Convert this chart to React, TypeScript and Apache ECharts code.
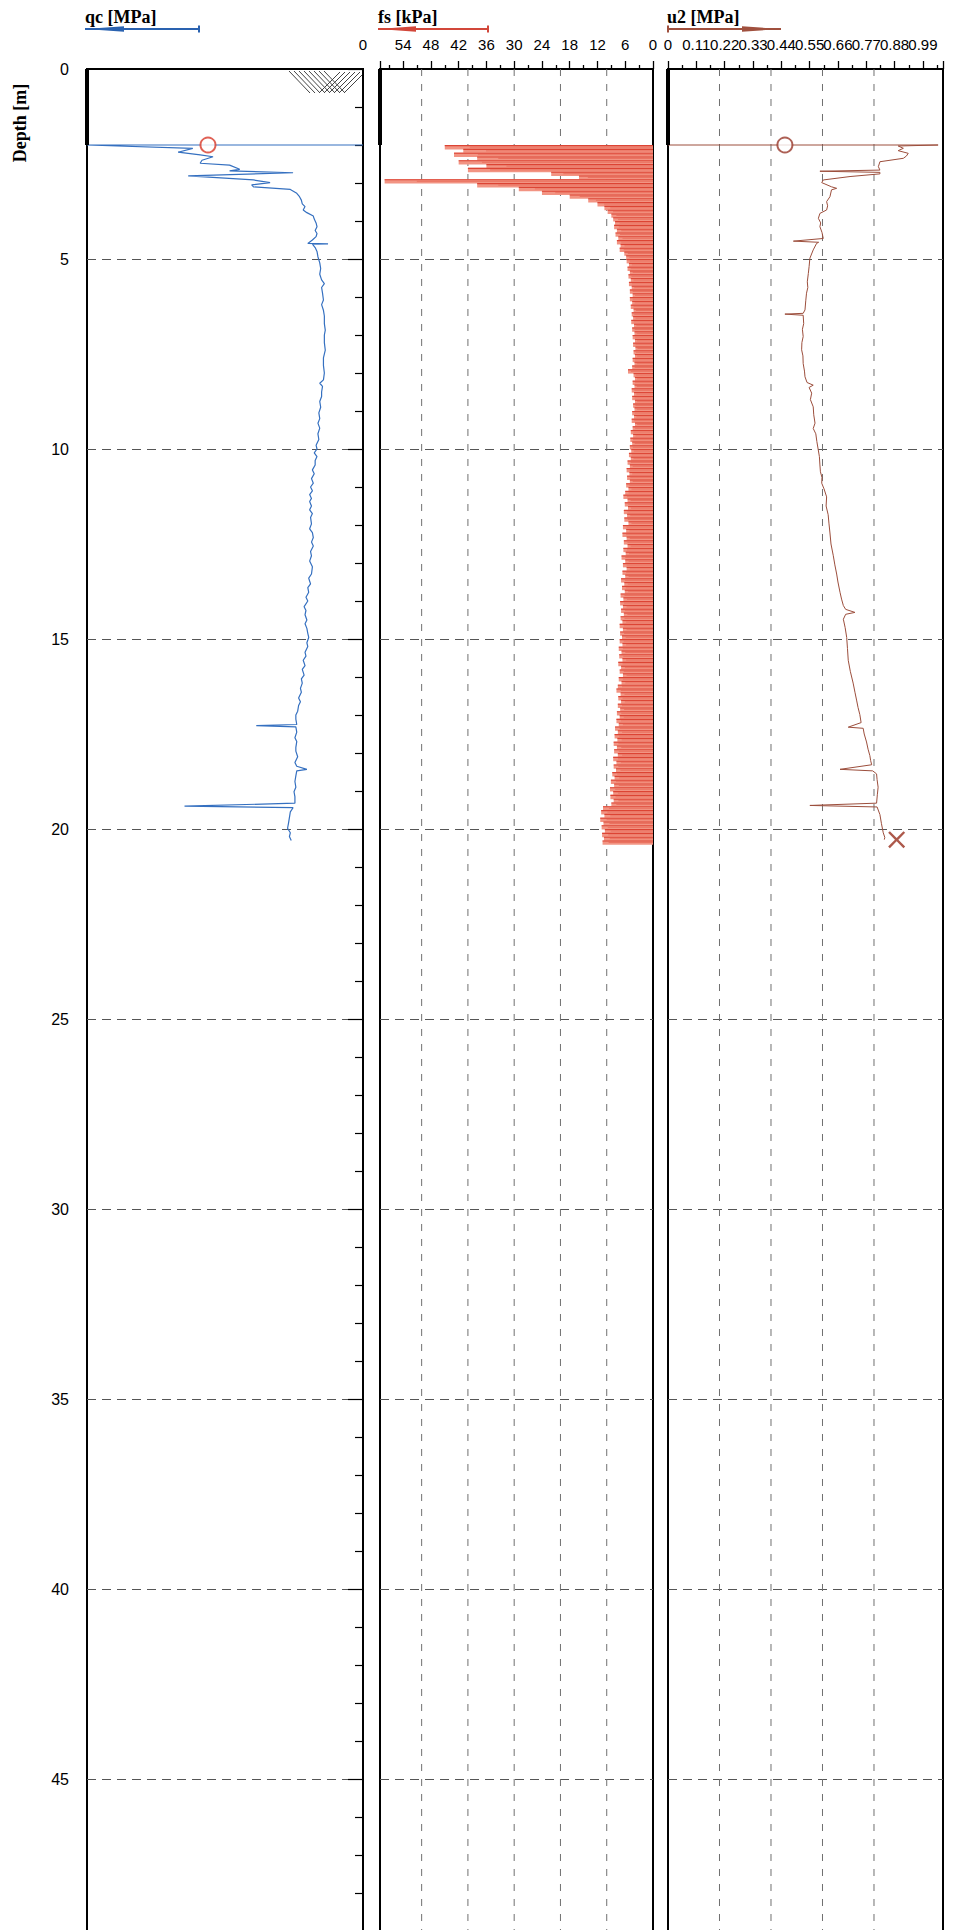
import React, { useEffect, useRef } from 'react';
import * as echarts from 'echarts';

// ---------- axes ----------
const DEPTH_MAX = 50;
const DEPTH_INTERVAL = 5;
const PREDRILL_DEPTH = 2.0;
const QC_MAX = 3;
const FS_MAX = 59;
const FS_INTERVAL = 6;
const U2_MAX = 1.068;
const U2_INTERVAL = 0.11;
const FS_GRIDLINES = [10, 20, 30, 40, 50];
const U2_GRIDLINES = [0.2, 0.4, 0.6, 0.8];

// ---------- qc [MPa] ----------
const QC_DEPTH = [
  2.0, 2.0, 2.09, 2.19, 2.26, 2.31, 2.4, 2.48, 2.53, 2.64, 2.68, 2.73, 2.81, 2.92, 2.99, 3.05, 3.1, 3.17, 3.27, 3.36,
  3.45, 3.55, 3.62, 3.71, 3.78, 3.87, 3.95, 4.05, 4.15, 4.25, 4.33, 4.41, 4.5, 4.59, 4.6, 4.61, 4.7, 4.8, 4.94, 5.1,
  5.25, 5.4, 5.55, 5.65, 5.75, 5.9, 6.08, 6.2, 6.35, 6.5, 6.7, 6.87, 7.0, 7.2, 7.4, 7.6, 7.8, 8.0, 8.18, 8.27,
  8.35, 8.5, 8.62, 8.75, 8.9, 9.05, 9.2, 9.32, 9.45, 9.6, 9.75, 9.9, 10.0, 10.1, 10.2, 10.3, 10.42, 10.55, 10.65, 10.78,
  10.9, 11.0, 11.1, 11.2, 11.3, 11.38, 11.5, 11.6, 11.7, 11.8, 11.97, 12.1, 12.2, 12.33, 12.45, 12.55, 12.7, 12.81, 12.95, 13.1,
  13.29, 13.4, 13.55, 13.65, 13.77, 13.9, 14.0, 14.15, 14.25, 14.36, 14.5, 14.6, 14.72, 14.85, 14.96, 15.1, 15.2, 15.35, 15.45, 15.56,
  15.7, 15.8, 15.95, 16.05, 16.16, 16.3, 16.4, 16.55, 16.65, 16.75, 16.9, 17.0, 17.11, 17.25, 17.28, 17.31, 17.45, 17.6, 17.7, 17.85,
  17.95, 18.1, 18.25, 18.35, 18.43, 18.47, 18.6, 18.75, 18.9, 19.02, 19.15, 19.32, 19.4, 19.44, 19.55, 19.7, 19.85, 19.98, 20.1, 20.2,
  20.3,
];
const QC_VALUE = [
  0, 3.0, 1.85, 2.01, 1.77, 1.63, 1.75, 1.77, 1.45, 1.34, 1.45, 0.76, 1.9, 1.19, 1.01, 1.21, 1.19, 0.79, 0.72, 0.69,
  0.67, 0.66, 0.63, 0.65, 0.61, 0.54, 0.53, 0.51, 0.5, 0.52, 0.5, 0.51, 0.55, 0.6, 0.38, 0.55, 0.52, 0.5, 0.49, 0.47,
  0.46, 0.47, 0.45, 0.42, 0.45, 0.44, 0.43, 0.45, 0.43, 0.42, 0.42, 0.41, 0.42, 0.42, 0.41, 0.43, 0.43, 0.42, 0.43, 0.47,
  0.44, 0.45, 0.45, 0.47, 0.46, 0.48, 0.47, 0.49, 0.47, 0.49, 0.48, 0.51, 0.5, 0.53, 0.5, 0.52, 0.52, 0.55, 0.53, 0.56,
  0.54, 0.57, 0.55, 0.58, 0.56, 0.58, 0.56, 0.58, 0.55, 0.57, 0.56, 0.58, 0.55, 0.54, 0.56, 0.54, 0.57, 0.56, 0.58, 0.55,
  0.56, 0.59, 0.57, 0.6, 0.59, 0.62, 0.6, 0.64, 0.62, 0.63, 0.61, 0.63, 0.61, 0.6, 0.59, 0.61, 0.6, 0.63, 0.62, 0.65,
  0.63, 0.66, 0.64, 0.67, 0.66, 0.68, 0.67, 0.7, 0.68, 0.7, 0.71, 0.73, 0.73, 0.72, 1.16, 0.73, 0.72, 0.74, 0.72, 0.73,
  0.73, 0.71, 0.74, 0.72, 0.61, 0.72, 0.73, 0.74, 0.73, 0.75, 0.74, 0.74, 1.94, 0.76, 0.79, 0.8, 0.81, 0.82, 0.79, 0.8,
  0.78,
];

// ---------- fs [kPa], one sample every FS_STEP m from FS_START ----------
const FS_START = 2.0;
const FS_STEP = 0.1;
const FS_VALUE = [
  45, 41, 43, 38, 42, 36, 40, 22, 16, 58, 38, 29, 24, 18, 14, 12, 10.5, 9.8, 9, 8.6,
  8.2, 8.4, 7.8, 8.1, 7.5, 7.8, 7.0, 7.2, 6.2, 5.8, 5.7, 5.2, 5.5, 5.0, 5.3, 4.8, 5.2, 4.6, 5.0, 4.4,
  5.0, 4.5, 4.8, 4.2, 4.6, 4.3, 4.7, 4.1, 4.5, 4.0, 4.4, 3.9, 4.3, 3.8, 4.2, 3.9, 4.4, 4.0, 4.5, 5.4,
  4.2, 3.9, 4.4, 4.0, 4.6, 4.1, 4.5, 3.9, 4.3, 4.0, 4.5, 4.1, 4.6, 3.9, 4.4, 4.8, 4.3, 4.9, 4.5, 5.0,
  4.7, 5.2, 4.8, 5.5, 5.0, 5.7, 5.1, 5.6, 5.0, 5.8, 5.3, 6.0, 6.4, 5.5, 6.1, 5.4, 6.3, 5.6, 6.2, 5.3,
  6.5, 5.8, 6.6, 5.7, 6.3, 5.5, 6.4, 5.9, 6.8, 6.0, 6.5, 5.7, 6.6, 6.0, 6.9, 6.2, 6.7, 6.1, 7.0, 6.4,
  7.1, 6.5, 6.9, 6.3, 7.0, 6.6, 7.2, 6.5, 7.1, 6.7, 7.2, 6.6, 7.4, 6.8, 7.3, 6.6, 7.5, 6.9, 7.2, 6.5,
  7.4, 6.8, 7.6, 7.9, 7.0, 7.5, 6.9, 7.6, 7.1, 7.8, 7.2, 7.9, 7.4, 8.2, 7.6, 8.3, 7.7, 8.5, 7.8, 8.4,
  7.6, 8.6, 7.9, 8.5, 8.0, 8.8, 8.3, 9.1, 8.4, 9.3, 8.6, 9.2, 8.5, 9.0, 10.8, 11.2, 10.5, 11.4, 10.7, 11.1,
  10.4, 11.0, 10.6, 10.9,
];

// ---------- u2 [MPa] ----------
const U2_DEPTH = [
  2.0, 2.0, 2.026, 2.087, 2.149, 2.219, 2.29, 2.35, 2.44, 2.57, 2.66, 2.69, 2.72, 2.76, 2.83, 2.92, 2.99, 3.1, 3.14, 3.18,
  3.36, 3.49, 3.6, 3.71, 3.8, 3.93, 4.05, 4.15, 4.3, 4.46, 4.53, 4.56, 4.59, 4.76, 4.98, 5.2, 5.38, 5.6, 5.75, 5.9,
  6.1, 6.34, 6.43, 6.45, 6.48, 6.7, 6.85, 7.04, 7.2, 7.39, 7.55, 7.75, 7.95, 8.1, 8.25, 8.32, 8.38, 8.53, 8.7, 8.89,
  9.1, 9.32, 9.46, 9.6, 9.8, 10.0, 10.2, 10.42, 10.6, 10.75, 10.9, 11.05, 11.26, 11.5, 11.73, 11.95, 12.21, 12.5, 12.81, 13.05,
  13.29, 13.5, 13.77, 13.95, 14.12, 14.22, 14.3, 14.35, 14.48, 14.7, 14.96, 15.25, 15.56, 15.85, 16.16, 16.4, 16.63, 16.8, 16.99, 17.2,
  17.32, 17.35, 17.5, 17.71, 17.9, 18.07, 18.2, 18.31, 18.43, 18.47, 18.55, 18.7, 18.9, 19.1, 19.32, 19.38, 19.42, 19.62, 19.86, 20.1,
  20.22, 20.28,
];
const U2_VALUE = [
  0, 1.049, 0.894, 0.914, 0.894, 0.933, 0.926, 0.914, 0.823, 0.817, 0.823, 0.59, 0.823, 0.823, 0.707, 0.603, 0.597, 0.635, 0.655, 0.635,
  0.629, 0.616, 0.62, 0.616, 0.59, 0.584, 0.593, 0.59, 0.598, 0.603, 0.487, 0.585, 0.577, 0.564, 0.551, 0.548, 0.545, 0.541, 0.543, 0.538,
  0.535, 0.532, 0.525, 0.454, 0.525, 0.527, 0.522, 0.525, 0.52, 0.519, 0.524, 0.525, 0.53, 0.532, 0.54, 0.564, 0.548, 0.558, 0.553, 0.564,
  0.566, 0.571, 0.564, 0.574, 0.578, 0.583, 0.588, 0.59, 0.592, 0.598, 0.597, 0.606, 0.616, 0.614, 0.622, 0.625, 0.629, 0.633, 0.642, 0.648,
  0.655, 0.66, 0.668, 0.674, 0.681, 0.69, 0.726, 0.69, 0.681, 0.688, 0.694, 0.697, 0.7, 0.708, 0.719, 0.726, 0.733, 0.738, 0.745, 0.75,
  0.7, 0.758, 0.762, 0.771, 0.777, 0.784, 0.787, 0.791, 0.668, 0.795, 0.81, 0.812, 0.816, 0.813, 0.81, 0.551, 0.812, 0.823, 0.829, 0.836,
  0.842, 0.84,
];

// ---------- markers ----------
const QC_START_MARK = [1.685, 2.0];
const U2_START_MARK = [0.454, 2.0];
const U2_END_MARK = [0.888, 20.28];

const SANS = '"Liberation Sans", Arial, sans-serif';
const SERIF = '"Liberation Serif", "Times New Roman", serif';

const GRIDS = [
  { left: 87, top: 69, width: 276, height: 1900 },
  { left: 380, top: 69, width: 273, height: 1900 },
  { left: 668, top: 69, width: 275, height: 1900 },
];

function yAxis(i: number) {
  const main = i === 0;
  return {
    type: 'value',
    gridIndex: i,
    inverse: true,
    min: 0,
    max: DEPTH_MAX,
    interval: DEPTH_INTERVAL,
    axisLine: { show: main, lineStyle: { color: '#000', width: 1.5 } },
    axisTick: { show: main, length: 15, lineStyle: { color: '#000', width: 1.2 } },
    minorTick: { show: main, splitNumber: 5, length: 8, lineStyle: { color: '#000', width: 1.2 } },
    axisLabel: { show: main, fontSize: 16, color: '#000', fontFamily: SANS, margin: 18, showMaxLabel: false },
    splitLine: { show: true, lineStyle: { color: '#555', width: 1.2, type: [9, 6] } },
  };
}

function topTicks() {
  return {
    axisTick: { show: true, length: 8, lineStyle: { color: '#000', width: 1.3 } },
    minorTick: { show: true, splitNumber: 2, length: 4, lineStyle: { color: '#000', width: 1.3 } },
  };
}

function arrow(x0: number, x1: number, wedgeTo: number, color: string) {
  // tip at x0, tail bar at x1
  return [
    { type: 'line', shape: { x1: x0, y1: 29, x2: x1, y2: 29 }, style: { stroke: color, lineWidth: 2 } },
    { type: 'polygon', shape: { points: [[x0, 29], [wedgeTo, 26.3], [wedgeTo, 31.7]] }, style: { fill: color } },
    { type: 'line', shape: { x1: x1, y1: 25.5, x2: x1, y2: 32.5 }, style: { stroke: color, lineWidth: 2 } },
  ];
}

export default function App() {
  const ref = useRef<HTMLDivElement>(null);
  useEffect(() => {
    if (!ref.current) return;
    const chart = echarts.init(ref.current, undefined, { renderer: 'svg' });

    const qcData = QC_DEPTH.map((d, i) => [QC_VALUE[i], d]);
    const u2Data = U2_DEPTH.map((d, i) => [U2_VALUE[i], d]);
    const fsData = FS_VALUE.map((v, i) => [v, FS_START + i * FS_STEP]);

    // soil symbol (cross hatch) in the top-right corner of the qc panel
    const hatch: any[] = [];
    for (let i = 0; i < 8; i++) {
      const x = 289 + i * 5;
      hatch.push({ type: 'line', shape: { x1: x, y1: 71, x2: x + 21, y2: 93 }, style: { stroke: '#444', lineWidth: 1 } });
    }
    for (let i = 0; i < 6; i++) {
      const x = 319 + i * 5;
      const x2 = Math.min(x + 21, 362);
      hatch.push({ type: 'line', shape: { x1: x, y1: 93, x2, y2: 93 - (x2 - x) }, style: { stroke: '#444', lineWidth: 1 } });
    }

    const gridSeries = (vals: number[], axis: number) =>
      vals.map((v) => ({
        type: 'line',
        xAxisIndex: axis,
        yAxisIndex: axis,
        data: [[v, 0], [v, DEPTH_MAX]],
        symbol: 'none',
        silent: true,
        z: 1,
        lineStyle: { color: '#707070', width: 1, type: [7, 8] },
      }));

    const predrill = (axis: number, xv: number) => ({
      type: 'line',
      xAxisIndex: axis,
      yAxisIndex: axis,
      data: [[xv, 0], [xv, PREDRILL_DEPTH]],
      symbol: 'none',
      clip: false,
      silent: true,
      z: 6,
      lineStyle: { color: '#000', width: 4 },
    });

    const option: any = {
      animation: false,
      backgroundColor: '#fff',
      grid: GRIDS.map((g) => ({
        ...g, show: true, borderColor: '#000', borderWidth: 2, backgroundColor: 'transparent',
        containLabel: false, outerBoundsMode: 'none',
      })),
      xAxis: [
        {
          type: 'value', gridIndex: 0, min: 0, max: QC_MAX, interval: QC_MAX, inverse: true, position: 'top',
          axisLine: { show: true, lineStyle: { color: '#000', width: 2 } },
          axisTick: { show: false },
          axisLabel: { fontSize: 15, color: '#000', fontFamily: SANS, margin: 17, showMaxLabel: false, formatter: (v: number) => (v === 0 ? '0' : '') },
          splitLine: { show: false },
        },
        {
          type: 'value', gridIndex: 1, min: 0, max: FS_MAX, interval: FS_INTERVAL, inverse: true, position: 'top',
          axisLine: { show: true, lineStyle: { color: '#000', width: 2 } },
          ...topTicks(),
          axisLabel: { fontSize: 15, color: '#000', fontFamily: SANS, margin: 17, showMaxLabel: false },
          splitLine: { show: false },
        },
        {
          type: 'value', gridIndex: 2, min: 0, max: U2_MAX, interval: U2_INTERVAL, position: 'top',
          axisLine: { show: true, lineStyle: { color: '#000', width: 2 } },
          ...topTicks(),
          axisLabel: { fontSize: 15, color: '#000', fontFamily: SANS, margin: 17, showMaxLabel: false },
          splitLine: { show: false },
        },
      ],
      yAxis: [yAxis(0), yAxis(1), yAxis(2)],
      series: [
        ...gridSeries(FS_GRIDLINES, 1),
        ...gridSeries(U2_GRIDLINES, 2),
        {
          type: 'custom',
          xAxisIndex: 1,
          yAxisIndex: 1,
          data: fsData,
          encode: { x: 0, y: 1 },
          z: 3,
          clip: true,
          silent: true,
          renderItem: (params: any, api: any) => {
            const v = api.value(0);
            const d = api.value(1);
            const a = api.coord([0, d]);
            const b = api.coord([v, d]);
            const h = api.size([0, FS_STEP])[1];
            return {
              type: 'group',
              children: [
                { type: 'rect', shape: { x: b[0], y: a[1], width: a[0] - b[0], height: h + 0.6 }, style: { fill: '#f29483' } },
                { type: 'line', shape: { x1: a[0], y1: a[1] + 0.6, x2: b[0], y2: a[1] + 0.6 }, style: { stroke: '#dc4434', lineWidth: 1.1 } },
                { type: 'line', shape: { x1: a[0], y1: a[1] + h * 0.55, x2: b[0] + (a[0] - b[0]) * 0.12, y2: a[1] + h * 0.55 }, style: { stroke: '#e86a58', lineWidth: 0.8 } },
              ],
            };
          },
        },
        {
          type: 'line', xAxisIndex: 0, yAxisIndex: 0, data: qcData, symbol: 'none', z: 4,
          lineStyle: { color: '#3570c0', width: 1.2 },
        },
        {
          type: 'line', xAxisIndex: 2, yAxisIndex: 2, data: u2Data, symbol: 'none', z: 4,
          lineStyle: { color: '#9c4e3c', width: 1 },
        },
        predrill(0, QC_MAX),
        predrill(1, FS_MAX),
        predrill(2, 0),
        {
          type: 'scatter', xAxisIndex: 0, yAxisIndex: 0, data: [QC_START_MARK], symbol: 'emptyCircle', symbolSize: 15, z: 7,
          itemStyle: { color: '#d83a2a', borderWidth: 2.5 },
        },
        {
          type: 'scatter', xAxisIndex: 2, yAxisIndex: 2, data: [U2_START_MARK], symbol: 'emptyCircle', symbolSize: 15, z: 7,
          itemStyle: { color: '#98382a', borderWidth: 2.5 },
        },
        {
          type: 'scatter', xAxisIndex: 2, yAxisIndex: 2, data: [U2_END_MARK], z: 7,
          symbol: 'path://M0,1L1,0L5,4L9,0L10,1L6,5L10,9L9,10L5,6L1,10L0,9L4,5Z', symbolSize: 17,
          itemStyle: { color: '#98301e' },
        },
      ],
      graphic: [
        { type: 'text', x: 85, y: 17, style: { text: 'qc [MPa]', font: `bold 18px ${SERIF}`, fill: '#000', align: 'left', verticalAlign: 'middle' } },
        { type: 'text', x: 378, y: 17, style: { text: 'fs [kPa]', font: `bold 18px ${SERIF}`, fill: '#000', align: 'left', verticalAlign: 'middle' } },
        { type: 'text', x: 667, y: 17, style: { text: 'u2 [MPa]', font: `bold 18px ${SERIF}`, fill: '#000', align: 'left', verticalAlign: 'middle' } },
        { type: 'text', x: 20, y: 123, rotation: Math.PI / 2, style: { text: 'Depth [m]', font: `bold 18px ${SERIF}`, fill: '#000', align: 'center', verticalAlign: 'middle' } },
        ...arrow(85, 199, 124, '#2a62b0'),
        ...arrow(378, 488, 416, '#d2473a'),
        ...arrow(781, 668, 742, '#a0503e'),
        ...hatch,
      ],
    };
    chart.setOption(option);
    return () => chart.dispose();
  }, []);
  return <div ref={ref} style={{ position: 'absolute', left: 0, top: 0, width: 958, height: 1930 }} />;
}
